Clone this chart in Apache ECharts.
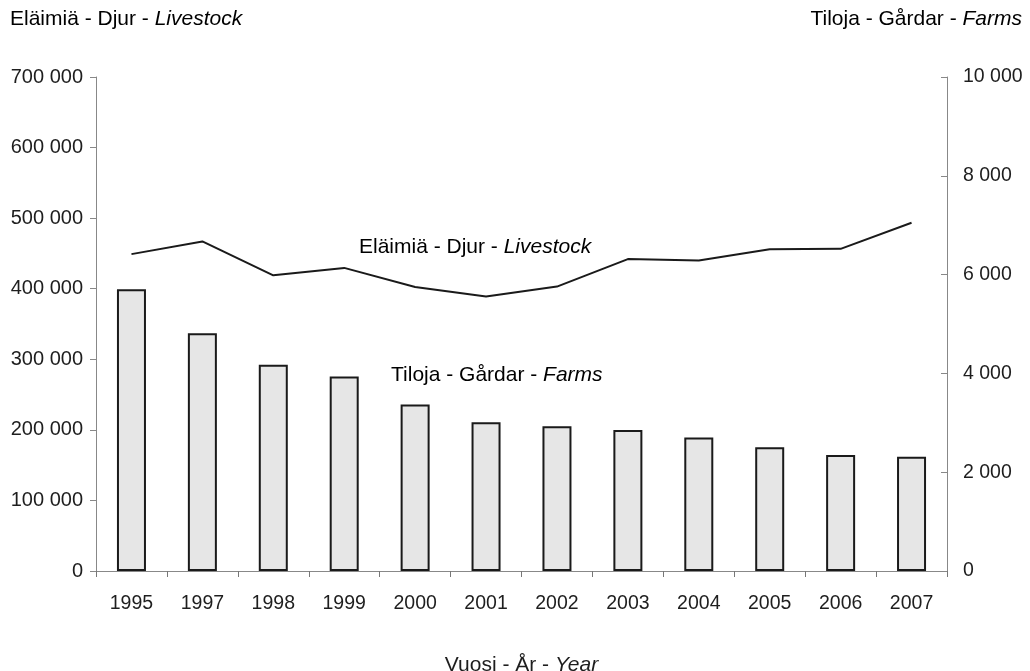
<!DOCTYPE html>
<html><head><meta charset="utf-8">
<script src="https://cdn.jsdelivr.net/npm/echarts@6/dist/echarts.min.js"></script>
<style>html,body{margin:0;padding:0;background:#fff}#c{width:1030px;height:671px}</style>
</head><body><div id="c"></div>
<script>
const years = ['1995','1997','1998','1999','2000','2001','2002','2003','2004','2005','2006','2007'];
const farms = [5705, 4815, 4175, 3935, 3370, 3010, 2930, 2855, 2700, 2505, 2350, 2315];
const livestock = [449000, 467000, 419000, 429500, 402500, 389000, 403000, 442000, 440000, 456000, 456500, 493500];
const leftTicks = { min: 0, max: 700000, interval: 100000 };
const rightTicks = { min: 0, max: 10000, interval: 2000 };

const F = 'Liberation Sans, Arial, sans-serif';
const TXT = '#1e1e1e';
function fmt(v){ return String(v).replace(/\B(?=(\d{3})+(?!\d))/g, ' '); }
const chart = echarts.init(document.getElementById('c'), null, {renderer:'canvas'});
const rich = { i: { fontStyle: 'italic', fontFamily: F, fontSize: 21, color: TXT }, n: { fontFamily: F, fontSize: 21, color: TXT } };
chart.setOption({
  animation: false,
  backgroundColor: '#fff',
  grid: { left: 96, right: 83, top: 77, bottom: 100, containLabel: false, outerBoundsMode: 'none' },
  xAxis: {
    type: 'category', data: years, boundaryGap: true,
    axisLine: { lineStyle: { color: '#888', width: 1 } },
    axisTick: { show: true, length: 6, lineStyle: { color: '#777' } },
    axisLabel: { color: TXT, fontFamily: F, fontSize: 19.5, margin: 23 },
    name: '{n|Vuosi - År - }{i|Year}', nameLocation: 'middle', nameGap: 84,
    nameTextStyle: { rich: rich }
  },
  yAxis: [
    { type: 'value', min: leftTicks.min, max: leftTicks.max, interval: leftTicks.interval, position: 'left',
      axisLine: { show: true, lineStyle: { color: '#888' } },
      axisTick: { show: true, length: 6, lineStyle: { color: '#888' } },
      splitLine: { show: false },
      axisLabel: { color: TXT, fontFamily: F, fontSize: 20, margin: 13, formatter: fmt } },
    { type: 'value', min: rightTicks.min, max: rightTicks.max, interval: rightTicks.interval, position: 'right',
      axisLine: { show: true, lineStyle: { color: '#888' } },
      axisTick: { show: true, inside: true, length: 6, lineStyle: { color: '#888' } },
      splitLine: { show: false },
      axisLabel: { color: TXT, fontFamily: F, fontSize: 19.5, margin: 16, formatter: fmt } }
  ],
  series: [
    { type: 'bar', name: 'Farms', yAxisIndex: 1, data: farms, barWidth: 29,
      itemStyle: { color: '#e6e6e6', borderColor: '#1a1a1a', borderWidth: 2 } },
    { type: 'line', name: 'Livestock', yAxisIndex: 0, data: livestock, symbol: 'none',
      lineStyle: { color: '#1a1a1a', width: 2 } }
  ],
  graphic: [
    { type: 'text', left: 10, top: 9, style: { text: '{n|Eläimiä - Djur - }{i|Livestock}', rich: rich } },
    { type: 'text', right: 8, top: 9, style: { text: '{n|Tiloja - Gårdar - }{i|Farms}', rich: rich } },
    { type: 'text', left: 359, top: 237, style: { text: '{n|Eläimiä - Djur - }{i|Livestock}', rich: rich } },
    { type: 'text', left: 391, top: 365, style: { text: '{n|Tiloja - Gårdar - }{i|Farms}', rich: rich } }
  ]
});
</script></body></html>
